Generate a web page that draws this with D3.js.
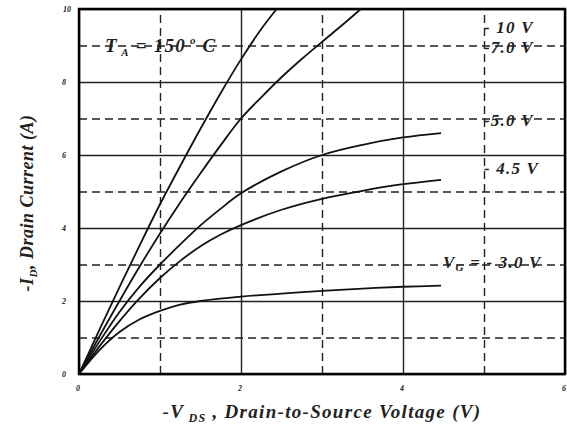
<!DOCTYPE html>
<html>
<head>
<meta charset="utf-8">
<script src="https://cdn.jsdelivr.net/npm/d3@7"></script>
<style>
  body { margin: 0; background: #fff; }
  text { font-family: "Liberation Serif", "DejaVu Serif", serif; font-style: italic; font-weight: bold; }
</style>
</head>
<body>
<div id="chart"></div>
<script>
// gate voltages and their output curves (-VDS in V, -ID in A)
const gateLabels = ["- 10 V", "-7.0 V", "-5.0 V", "- 4.5 V", "- 3.0 V"];

const curve10 = [[0,0],[0.25,1.2],[0.5,2.38],[0.75,3.53],[1,4.65],[1.25,5.7],[1.5,6.72],[1.75,7.7],[2,8.62],[2.25,9.45],[2.44,10]];
const curve7 = [[0,0],[0.25,1.02],[0.5,2.0],[0.75,2.95],[1,3.85],[1.25,4.7],[1.5,5.5],[1.75,6.27],[2,7.0],[2.25,7.58],[2.5,8.13],[2.75,8.63],[3,9.1],[3.25,9.56],[3.48,10]];
const curve5 = [[0,0],[0.25,0.88],[0.5,1.7],[0.75,2.4],[1,3.0],[1.25,3.55],[1.5,4.07],[1.75,4.53],[2,4.95],[2.5,5.55],[3,6.0],[3.5,6.28],[4,6.48],[4.47,6.6]];
const curve45 = [[0,0],[0.25,0.75],[0.5,1.45],[0.75,2.08],[1,2.63],[1.25,3.1],[1.5,3.5],[1.75,3.82],[2,4.08],[2.5,4.5],[3,4.8],[3.5,5.02],[4,5.2],[4.47,5.32]];
const curve3 = [[0,0],[0.25,0.65],[0.5,1.15],[0.75,1.5],[1,1.73],[1.25,1.9],[1.5,2.0],[2,2.12],[2.5,2.2],[3,2.28],[3.5,2.34],[4,2.39],[4.47,2.42]];

const xMajor = [0, 2, 4, 6];
const xMinor = [1, 3, 5];
const yMajor = [0, 2, 4, 6, 8, 10];
const yMinor = [1, 3, 5, 7, 9];

const width = 567, height = 427;
const svg = d3.select("#chart").append("svg")
    .attr("width", width)
    .attr("height", height);

const x = d3.scaleLinear().domain([0, 6]).range([79, 565]);
const y = d3.scaleLinear().domain([0, 10]).range([374, 9]);

// dashed minor grid
svg.append("g")
    .attr("transform", `translate(0,${y(0)})`)
    .call(d3.axisBottom(x).tickValues(xMinor).tickSize(-(y(0) - y(10))).tickFormat(""))
    .call(g => g.select(".domain").remove())
    .call(g => g.selectAll("line").attr("stroke", "#222").attr("stroke-width", 1.4).attr("stroke-dasharray", "8,5"));

svg.append("g")
    .attr("transform", `translate(${x(0)},0)`)
    .call(d3.axisLeft(y).tickValues(yMinor).tickSize(-(x(6) - x(0))).tickFormat(""))
    .call(g => g.select(".domain").remove())
    .call(g => g.selectAll("line").attr("stroke", "#222").attr("stroke-width", 1.4).attr("stroke-dasharray", "8,5"));

// solid major grid
svg.append("g")
    .attr("transform", `translate(0,${y(0)})`)
    .call(d3.axisBottom(x).tickValues(xMajor).tickSize(-(y(0) - y(10))).tickFormat(""))
    .call(g => g.select(".domain").remove())
    .call(g => g.selectAll("line").attr("stroke", "#222").attr("stroke-width", 1.4));

svg.append("g")
    .attr("transform", `translate(${x(0)},0)`)
    .call(d3.axisLeft(y).tickValues(yMajor).tickSize(-(x(6) - x(0))).tickFormat(""))
    .call(g => g.select(".domain").remove())
    .call(g => g.selectAll("line").attr("stroke", "#222").attr("stroke-width", 1.4));

// frame
svg.append("rect")
    .attr("x", x(0)).attr("y", y(10))
    .attr("width", x(6) - x(0)).attr("height", y(0) - y(10))
    .attr("fill", "none").attr("stroke", "#000").attr("stroke-width", 2.5);

// tick labels
svg.append("g").selectAll("text")
    .data(yMajor).enter().append("text")
    .attr("x", d => d === 10 ? 67 : 64)
    .attr("y", d => y(d) + 3)
    .attr("text-anchor", "middle")
    .attr("font-size", 8)
    .attr("fill", "#222")
    .text(d => d);

svg.append("g").selectAll("text")
    .data(xMajor).enter().append("text")
    .attr("x", d => x(d) - 1)
    .attr("y", 391)
    .attr("text-anchor", "middle")
    .attr("font-size", 8)
    .attr("fill", "#222")
    .text(d => d);

// curves
const line = d3.line()
    .x(d => x(d[0]))
    .y(d => y(d[1]))
    .curve(d3.curveCatmullRom.alpha(0.5));

svg.append("g").selectAll("path")
    .data([curve10, curve7, curve5, curve45, curve3])
    .enter().append("path")
    .attr("d", line)
    .attr("fill", "none")
    .attr("stroke", "#111")
    .attr("stroke-width", 1.8);

// curve labels
const lbl = svg.append("g").attr("font-size", 17).attr("letter-spacing", 1.2).attr("fill", "#222");
lbl.append("text").attr("x", 484).attr("y", 33).text(gateLabels[0]);
lbl.append("text").attr("x", 484).attr("y", 53).text(gateLabels[1]);
lbl.append("text").attr("x", 484).attr("y", 126).text(gateLabels[2]);
lbl.append("text").attr("x", 484).attr("y", 174).text(gateLabels[3]);

const vg = lbl.append("text").attr("x", 443).attr("y", 268);
vg.append("tspan").text("V");
vg.append("tspan").attr("font-size", 11).attr("dy", 3).text("G");
vg.append("tspan").attr("dy", -3).text(" = " + gateLabels[4]);

const ta = svg.append("text").attr("x", 105).attr("y", 52)
    .attr("font-size", 19).attr("letter-spacing", 1.2).attr("fill", "#222");
ta.append("tspan").text("T");
ta.append("tspan").attr("font-size", 11).attr("dy", 4).text(" A");
ta.append("tspan").attr("dy", -4).text(" = 150");
ta.append("tspan").attr("font-size", 11).attr("dy", -8).text(" o");
ta.append("tspan").attr("dy", 8).text(" C");

// axis titles
const xt = svg.append("text")
    .attr("x", 322).attr("y", 418)
    .attr("text-anchor", "middle")
    .attr("font-size", 19).attr("letter-spacing", 1.3)
    .attr("fill", "#222");
xt.append("tspan").text("-V");
xt.append("tspan").attr("font-size", 12).attr("dy", 4).text(" DS");
xt.append("tspan").attr("dy", -4).text(" , Drain-to-Source Voltage (V)");

const yt = svg.append("text")
    .attr("transform", "translate(33,203) rotate(-90)")
    .attr("text-anchor", "middle")
    .attr("font-size", 18).attr("letter-spacing", 0.5)
    .attr("fill", "#222");
yt.append("tspan").text("-I");
yt.append("tspan").attr("font-size", 11).attr("dy", 4).text("D");
yt.append("tspan").attr("dy", -4).text(", Drain Current (A)");
</script>
</body>
</html>
